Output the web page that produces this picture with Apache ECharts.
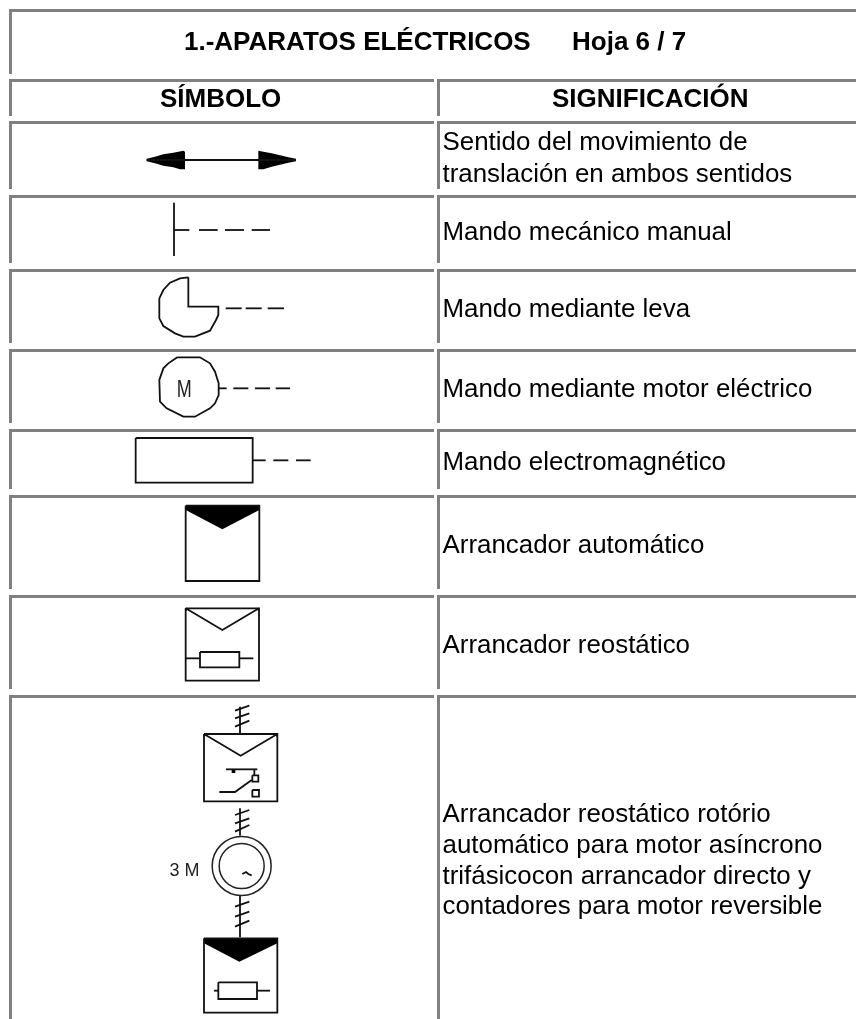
<!DOCTYPE html>
<html><head><meta charset="utf-8">
<style>html,body{margin:0;padding:0;background:#fff}#c{width:856px;height:1019px}</style>
<script src="https://cdn.jsdelivr.net/npm/echarts@6/dist/echarts.min.js"></script>
</head><body><div id="c"></div>
<script>
const title = ['1.-APARATOS ELÉCTRICOS', 'Hoja 6 / 7'];
const headers = ['SÍMBOLO', 'SIGNIFICACIÓN'];
const meanings = [
  ['Sentido del movimiento de', 'translación en ambos sentidos'],
  ['Mando mecánico manual'],
  ['Mando mediante leva'],
  ['Mando mediante motor eléctrico'],
  ['Mando electromagnético'],
  ['Arrancador automático'],
  ['Arrancador reostático'],
  ['Arrancador reostático rotório', 'automático para motor asíncrono', 'trifásicocon arrancador directo y', 'contadores para motor reversible']
];
const rowTops = [79, 121, 195, 269, 349, 429, 495, 595, 695];
const rowEnds = [116, 189, 263, 343, 423, 489, 589, 689, 1019];
const meaningLineY = [[142.5, 174.5], [233], [309.5], [389.5], [463], [546], [646], [815, 846, 877, 907]];

const z = (ox, oy, pts) => pts.map(p => [ox + p[0] / 3, oy + p[1] / 3]);

// Symbol geometry, in axis units
const strokes = [
  // arrow
  z(130, 140, [[50,60],[498,60]]),
  // manual
  z(130, 140, [[132,188],[132,348]]), z(130, 140, [[132,270],[178,270]]), z(130, 140, [[207,270],[263,270]]), z(130, 140, [[285,270],[342,270]]), z(130, 140, [[365,270],[420,270]]),
  // cam
  z(100, 240, [[265,112],[240,115],[210,128],[190,150],[178,175],[178,235],[190,258],[225,280],[250,290],[285,290],[330,272],[348,240],[355,225],[355,200],[265,200],[265,112]]),
  z(100, 240, [[377,205],[425,205]]), z(100, 240, [[437,205],[485,205]]), z(100, 240, [[503,205],[552,205]]),
  // motor
  z(100, 240, [[232,352],[300,352],[330,370],[345,395],[356,430],[356,465],[345,490],[330,505],[285,530],[250,530],[200,505],[180,485],[178,420],[190,385],[205,370],[232,352]]),
  z(100, 240, [[356,445],[380,445]]), z(100, 240, [[400,445],[445,445]]), z(100, 240, [[465,445],[510,445]]), z(100, 240, [[527,445],[570,445]]),
  // electromagnetic
  z(100, 410, [[107,84],[458,84],[458,218],[107,218],[107,84]]),
  z(100, 410, [[458,151],[497,151]]), z(100, 410, [[520,151],[565,151]]), z(100, 410, [[588,151],[632,151]]),
  // automatic
  z(100, 410, [[257,287],[478,287],[478,513],[257,513],[257,287]]),
  // rheostatic
  z(120, 590, [[197,55],[417,55],[417,272],[197,272],[197,55]]),
  z(120, 590, [[197,55],[307,120],[417,55]]),
  z(120, 590, [[240,186],[358,186],[358,232],[240,232],[240,186]]),
  z(120, 590, [[197,205],[240,205]]), z(120, 590, [[358,205],[400,205]]),
  // big: top feed
  z(120, 590, [[360,350],[360,432]]),
  z(120, 590, [[345,362],[388,347]]), z(120, 590, [[345,385],[388,370]]), z(120, 590, [[345,410],[388,392]]),
  z(120, 590, [[252,432],[472,432],[472,634],[252,634],[252,432]]),
  z(120, 590, [[252,432],[362,497],[472,432]]),
  z(120, 590, [[318,538],[412,538]]), z(120, 590, [[298,606],[345,606],[395,570]]), z(120, 590, [[403,538],[403,556]]),
  z(120, 590, [[397,556],[415,556],[415,575],[397,575],[397,556]]),
  z(120, 590, [[397,600],[417,600],[417,620],[397,620],[397,600]]),
  // big: middle feed
  z(120, 790, [[360,55],[360,137]]),
  z(120, 790, [[345,75],[388,60]]), z(120, 790, [[345,100],[388,85]]), z(120, 790, [[345,125],[388,105]]),
  // big: lower feed
  z(120, 790, [[360,315],[360,442]]),
  z(120, 790, [[345,350],[388,335]]), z(120, 790, [[345,380],[388,365]]), z(120, 790, [[345,410],[388,392]]),
  // lower box
  z(120, 790, [[252,445],[472,445],[472,668],[252,668],[252,445]]),
  z(120, 790, [[295,577],[411,577],[411,627],[295,627],[295,577]]),
  z(120, 790, [[282,602],[295,602]]), z(120, 790, [[411,602],[450,602]]),
  z(120, 790, [[367,252],[378,246],[385,252],[395,256]])
];
const fills = [
  z(130, 140, [[50,56],[75,50],[100,43],[130,38],[160,32],[165,35],[165,88],[150,88],[130,82],[100,77],[75,70],[50,64]]),
  z(130, 140, [[385,32],[400,35],[425,40],[450,46],[475,52],[498,56],[498,64],[475,68],[450,74],[425,80],[400,88],[385,88]]),
  z(100, 410, [[257,287],[478,287],[478,300],[367,358],[257,300]]),
  z(120, 790, [[252,445],[472,445],[472,460],[358,515],[252,460]]),
  z(120, 590, [[197,55],[210,55],[197,64]]), z(120, 590, [[417,55],[404,55],[417,64]]),
  z(120, 590, [[252,432],[265,432],[252,441]]), z(120, 590, [[472,432],[459,432],[472,441]]),
  z(120, 590, [[335,540],[346,540],[346,549],[335,549]])
];
const circles = [
  [120 + 365/3, 790 + 228/3, 29.5],
  [120 + 365/3, 790 + 228/3, 22.5]
];
const symbolTexts = [
  ['M', 184.3, 390.5, 18, 1.35],
  ['3 M', 184.5, 871, 18, 1]
];

// Table rules as [x0, y0, x1, y1]
const rules = [[9, 9, 856, 12], [9, 9, 12, 74]];
rowTops.forEach((t, i) => {
  rules.push([9, t, 434, t + 3], [437, t, 856, t + 3], [9, t, 12, rowEnds[i]], [437, t, 440, rowEnds[i]]);
});

const texts = [
  [title[0], 184, 43, 'bold 26px'], [title[1], 572, 43, 'bold 26px'],
  [headers[0], 160, 100, 'bold 26px'], [headers[1], 552, 100, 'bold 26px']
];
meanings.forEach((ls, i) => ls.forEach((l, j) => texts.push([l, 442.5, meaningLineY[i][j], '25.9px'])));

const FONT = '"Liberation Sans", Arial, sans-serif';
const chart = echarts.init(document.getElementById('c'), null, {renderer: 'canvas'});
const custom = (data, render) => ({type: 'custom', coordinateSystem: 'cartesian2d', silent: true, clip: false, animation: false, data: data.map((d, i) => [i]), renderItem: render});
chart.setOption({
  animation: false,
  backgroundColor: '#fff',
  grid: {left: 0, right: 0, top: 0, bottom: 0},
  xAxis: {type: 'value', min: 0, max: 856, show: false},
  yAxis: {type: 'value', min: 0, max: 1019, inverse: true, show: false},
  series: [
    custom(rules, (p, api) => {
      const r = rules[api.value(0)], a = api.coord([r[0], r[1]]), b = api.coord([r[2], r[3]]);
      return {type: 'rect', shape: {x: a[0], y: a[1], width: b[0] - a[0], height: b[1] - a[1]}, style: {fill: '#808080'}};
    }),
    custom(fills, (p, api) => ({type: 'polygon', shape: {points: fills[api.value(0)].map(q => api.coord(q))}, style: {fill: '#000'}})),
    custom(strokes, (p, api) => ({type: 'polyline', shape: {points: strokes[api.value(0)].map(q => api.coord(q))}, style: {stroke: '#111', lineWidth: 1.8, fill: 'none'}})),
    custom(circles, (p, api) => {
      const c = circles[api.value(0)], a = api.coord([c[0], c[1]]), r = api.size([c[2], 0])[0];
      return {type: 'circle', shape: {cx: a[0], cy: a[1], r}, style: {stroke: '#222', lineWidth: 1.5, fill: 'none'}};
    }),
    custom(symbolTexts, (p, api) => {
      const t = symbolTexts[api.value(0)], a = api.coord([t[1], t[2]]);
      return {type: 'text', x: a[0], y: a[1], scaleY: t[4], style: {text: t[0], font: t[3] + 'px ' + FONT, fill: '#222', align: 'center', verticalAlign: 'middle'}};
    }),
    custom(texts, (p, api) => {
      const t = texts[api.value(0)], a = api.coord([t[1], t[2]]);
      return {type: 'text', x: a[0], y: a[1], style: {text: t[0], font: t[3] + ' ' + FONT, fill: '#000', align: 'left', verticalAlign: 'middle'}};
    })
  ]
});
</script></body></html>
